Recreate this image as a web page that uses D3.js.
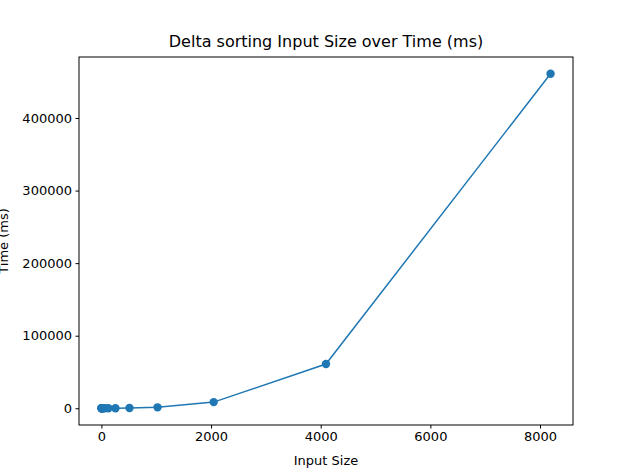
<!DOCTYPE html>
<html><head><meta charset="utf-8">
<script src="https://cdn.jsdelivr.net/npm/d3@7"></script>
<style>body{margin:0;background:#fff}text{font-family:"DejaVu Sans",sans-serif;fill:#000}</style>
</head><body>
<script>
// data
var inputSizes = [1, 2, 4, 8, 16, 32, 64, 128, 256, 512, 1024, 2048, 4096, 8192];
var times = [0, 0, 0, 0, 0, 5, 15, 40, 120, 300, 1300, 8500, 61000, 461000];
var xTicks = [0, 2000, 4000, 6000, 8000];
var yTicks = [0, 100000, 200000, 300000, 400000];

var W = 632, H = 473;
var L = 79, R = 573, T = 57, B = 425;
var svg = d3.select('body').append('svg').attr('width', W).attr('height', H);

var xr = d3.extent(inputSizes), xm = (xr[1] - xr[0]) * 0.05;
var yr = d3.extent(times), ym = (yr[1] - yr[0]) * 0.05;
var x = d3.scaleLinear().domain([xr[0] - xm, xr[1] + xm]).range([L, R]);
var y = d3.scaleLinear().domain([yr[0] - ym, yr[1] + ym]).range([B, T]);

var xAxis = svg.append('g').attr('transform', 'translate(0,' + B + ')')
    .call(d3.axisBottom(x).tickValues(xTicks).tickSize(3.5).tickPadding(3.5).tickFormat(d3.format('d')));
var yAxis = svg.append('g').attr('transform', 'translate(' + L + ',0)')
    .call(d3.axisLeft(y).tickValues(yTicks).tickSize(3.5).tickPadding(3.5).tickFormat(d3.format('d')));
[xAxis, yAxis].forEach(function(a) {
    a.select('.domain').remove();
    a.selectAll('text').attr('font-size', 13).attr('font-family', 'DejaVu Sans');
});

svg.append('rect').attr('x', L).attr('y', T).attr('width', R - L).attr('height', B - T)
    .attr('fill', 'none').attr('stroke', '#000').attr('stroke-width', 1);

var line = d3.line().x(function(d, i) { return x(inputSizes[i]); }).y(function(d) { return y(d); });
svg.append('path').datum(times).attr('d', line)
    .attr('fill', 'none').attr('stroke', '#1f77b4').attr('stroke-width', 1.5);
svg.selectAll('circle.pt').data(times).enter().append('circle').attr('class', 'pt')
    .attr('cx', function(d, i) { return x(inputSizes[i]); })
    .attr('cy', function(d) { return y(d); })
    .attr('r', 4.2).attr('fill', '#1f77b4');

svg.append('text').attr('x', (L + R) / 2).attr('y', 47).attr('text-anchor', 'middle')
    .attr('font-size', 16).text('Delta sorting Input Size over Time (ms)');
svg.append('text').attr('x', (L + R) / 2).attr('y', 465).attr('text-anchor', 'middle')
    .attr('font-size', 13).text('Input Size');
svg.append('text').attr('transform', 'translate(8,' + (T + B) / 2 + ') rotate(-90)')
    .attr('text-anchor', 'middle').attr('font-size', 13).text('Time (ms)');
</script>
</body></html>
